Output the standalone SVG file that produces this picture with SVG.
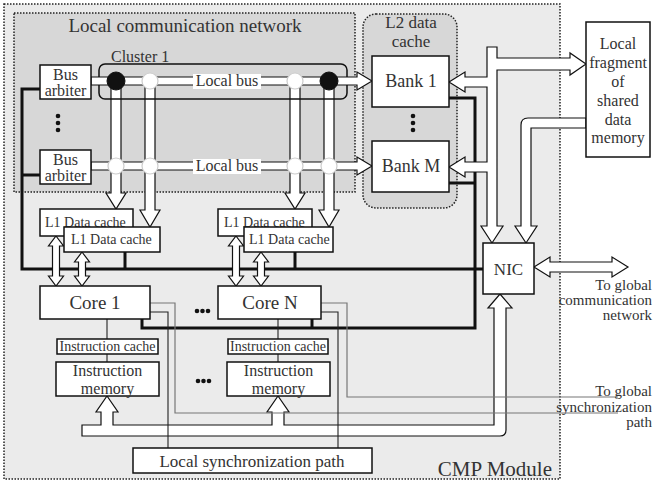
<svg xmlns="http://www.w3.org/2000/svg" width="654" height="483" viewBox="0 0 654 483">
  <style>
    text { font-family: "Liberation Serif", "Times New Roman", serif; fill: #333; }
    .box { fill: #fff; stroke: #111; stroke-width: 1.5; }
    .pipe { fill: #fff; stroke: #111; stroke-width: 1.2; stroke-linejoin: miter; }
    .thick { fill: none; stroke: #111; stroke-width: 3; }
    .thin { fill: none; stroke: #222; stroke-width: 1.1; }
    .sync { fill: none; stroke: #777; stroke-width: 1.2; }
    .dot { fill: #111; }
    .jw { fill: #fff; stroke: #ccc; stroke-width: 1.2; }
    .jb { fill: #111; stroke: #111; stroke-width: 1; }
    .t14 { font-size: 14px; }
    .t16 { font-size: 16px; }
    .t17 { font-size: 17px; }
    .t18 { font-size: 18px; }
    .mid { text-anchor: middle; }
    .end { text-anchor: end; }
  </style>

  <!-- CMP module area -->
  <g id="cmp-module">
    <rect x="4" y="4" width="556" height="475" fill="#ebebeb" stroke="#222" stroke-width="1.5" stroke-dasharray="1.5 1.5"/>
    <text x="552" y="476" font-size="21" class="end">CMP Module</text>
  </g>

  <!-- local communication network region -->
  <g id="local-network">
    <rect x="14" y="13" width="341" height="179" fill="#d7d7d7" stroke="#222" stroke-width="1.5" stroke-dasharray="1.5 1.5"/>
    <text x="185" y="32" font-size="19" class="mid">Local communication network</text>
  </g>

  <!-- L2 data cache region -->
  <g id="l2-cache">
    <rect x="363" y="14" width="94" height="194" rx="13" fill="#d7d7d7" stroke="#222" stroke-width="1.5" stroke-dasharray="1.5 1.5"/>
    <text x="411" y="28" class="t17 mid">L2 data</text>
    <text x="411" y="47" class="t17 mid">cache</text>
  </g>

  <!-- connectors -->
  <g id="connectors">
    <!-- shared memory bus (thick lines) -->
    <polyline class="thick" points="40,89 22,89 22,269 483,269"/>
    <line class="thick" x1="22" y1="175" x2="40" y2="175"/>
    <line class="thick" x1="125" y1="252" x2="125" y2="269"/>
    <line class="thick" x1="295" y1="252" x2="295" y2="269"/>
    <polyline class="thick" points="449,98 475,98 475,328 142,328 142,319"/>
    <line class="thick" x1="449" y1="183" x2="475" y2="183"/>
    <line class="thick" x1="312" y1="319" x2="312" y2="328"/>

    <!-- core to instruction cache / memory -->
    <line class="thin" x1="107" y1="319" x2="107" y2="362"/>
    <line class="thin" x1="278" y1="319" x2="278" y2="362"/>

    <!-- vertical local bus taps to L1 caches -->
    <polygon class="pipe" points="111,81 121,81 121,193 126,193 116,209 106,193 111,193"/>
    <polygon class="pipe" points="145,81 155,81 155,210 160,210 150,227 140,210 145,210"/>
    <polygon class="pipe" points="290,81 300,81 300,193 305,193 295,209 285,193 290,193"/>
    <polygon class="pipe" points="324,81 334,81 334,210 339,210 329,227 319,210 324,210"/>

    <!-- cluster outline -->
    <rect x="99" y="64" width="248" height="35" rx="6" fill="none" stroke="#111" stroke-width="1.5"/>

    <!-- local buses -->
    <polygon class="pipe" points="91,77 357,77 357,72 372,81 357,90 357,85 91,85"/>
    <polygon class="pipe" points="91,162 357,162 357,157 372,166 357,175 357,170 91,170"/>
    <rect x="193" y="74" width="68" height="15" fill="#fff"/>
    <rect x="193" y="159" width="68" height="15" fill="#fff"/>
    <text x="227" y="86" class="t16 mid">Local bus</text>
    <text x="227" y="171" class="t16 mid">Local bus</text>

    <!-- bus junctions -->
    <circle class="jb" cx="116" cy="81" r="9"/>
    <circle class="jw" cx="150" cy="81" r="8"/>
    <circle class="jw" cx="295" cy="81" r="8"/>
    <circle class="jb" cx="329" cy="81" r="9"/>
    <circle class="jw" cx="116" cy="166" r="8"/>
    <circle class="jw" cx="150" cy="166" r="8"/>
    <circle class="jw" cx="295" cy="166" r="8"/>
    <circle class="jw" cx="329" cy="166" r="8"/>

    <!-- L1 cache to core links -->
    <polygon class="pipe" points="56,236 63.5,246 59.5,246 59.5,276 63.5,276 56,286 48.5,276 52.5,276 52.5,246 48.5,246"/>
    <polygon class="pipe" points="82,252 89.5,262 85.5,262 85.5,276 89.5,276 82,286 74.5,276 78.5,276 78.5,262 74.5,262"/>
    <polygon class="pipe" points="236,236 243.5,246 239.5,246 239.5,276 243.5,276 236,286 228.5,276 232.5,276 232.5,246 228.5,246"/>
    <polygon class="pipe" points="261,252 268.5,262 264.5,262 264.5,276 268.5,276 261,286 253.5,276 257.5,276 257.5,262 253.5,262"/>

    <!-- NIC / L2 banks / memory fragment bus -->
    <polygon class="pipe" points="487,47 497,47 497,58 570,58 570,53 586,64 570,75 570,70 497,70 497,226 503,226 492,243 481,226 487,226 487,172 465,172 465,177 449,167 465,157 465,162 487,162 487,87 465,87 465,92 449,82 465,72 465,77 487,77"/>
    <path class="pipe" d="M586,118 H528 Q521,118 521,125 V226 H515 L526,243 L537,226 H531 V128 H586 Z"/>

    <!-- NIC to global network -->
    <polygon class="pipe" points="534,267 550,257 550,262 612,262 612,257 628,267 612,277 612,272 550,272 550,277"/>

    <!-- NIC to instruction memories -->
    <path class="pipe" d="M82,425 H101 V412 H96 L107,396 L118,412 H113 V425 H272 V412 H267 L278,396 L289,412 H284 V425 H494 V308 H488 L500,294 L512,308 H506 V430 Q506,436 500,436 H82 Z"/>

    <!-- synchronization lines -->
    <polyline class="sync" points="150,303 175,303 175,413 618,413"/>
    <polyline class="sync" points="321,303 347,303 347,397 618,397"/>
    <polyline class="thin" points="150,312 168,312 168,448"/>
    <polyline class="thin" points="321,312 338,312 338,448"/>
  </g>

  <!-- bus arbiters -->
  <g id="bus-arbiter-1">
    <rect class="box" x="40" y="65" width="51" height="34"/>
    <text x="65.5" y="80" class="t16 mid">Bus</text>
    <text x="65.5" y="96" class="t16 mid">arbiter</text>
  </g>
  <g id="bus-arbiter-m">
    <rect class="box" x="40" y="150" width="51" height="34"/>
    <text x="65.5" y="165" class="t16 mid">Bus</text>
    <text x="65.5" y="181" class="t16 mid">arbiter</text>
  </g>
  <g id="arbiter-dots">
    <circle class="dot" cx="58" cy="116" r="2.3"/>
    <circle class="dot" cx="58" cy="123" r="2.3"/>
    <circle class="dot" cx="58" cy="130" r="2.3"/>
  </g>
  <g id="cluster-label">
    <text x="111" y="62" class="t16">Cluster 1</text>
  </g>

  <!-- L2 banks -->
  <g id="bank-1">
    <rect class="box" x="372" y="56" width="77" height="51"/>
    <text x="411" y="87" class="t18 mid">Bank 1</text>
  </g>
  <g id="bank-dots">
    <circle class="dot" cx="413" cy="116" r="2.3"/>
    <circle class="dot" cx="413" cy="123" r="2.3"/>
    <circle class="dot" cx="413" cy="130" r="2.3"/>
  </g>
  <g id="bank-m">
    <rect class="box" x="372" y="141" width="77" height="51"/>
    <text x="411" y="172" class="t18 mid">Bank M</text>
  </g>

  <!-- L1 data caches -->
  <g id="l1-cache-1a">
    <rect class="box" x="40" y="209" width="93" height="27"/>
    <text x="45" y="227" class="t14">L1 Data cache</text>
  </g>
  <g id="l1-cache-1b">
    <rect class="box" x="64" y="227" width="96" height="25"/>
    <text x="71" y="244" class="t14">L1 Data cache</text>
  </g>
  <g id="l1-cache-na">
    <rect class="box" x="218" y="209" width="94" height="27"/>
    <text x="224" y="227" class="t14">L1 Data cache</text>
  </g>
  <g id="l1-cache-nb">
    <rect class="box" x="244" y="227" width="89" height="25"/>
    <text x="249" y="244" class="t14">L1 Data cache</text>
  </g>

  <!-- cores -->
  <g id="core-1">
    <rect class="box" x="40" y="286" width="110" height="33"/>
    <text x="95" y="309" font-size="19" class="mid">Core 1</text>
  </g>
  <g id="core-dots">
    <circle class="dot" cx="197" cy="311" r="2.3"/>
    <circle class="dot" cx="202.5" cy="311" r="2.3"/>
    <circle class="dot" cx="208" cy="311" r="2.3"/>
  </g>
  <g id="core-n">
    <rect class="box" x="218" y="286" width="103" height="33"/>
    <text x="270" y="309" font-size="19" class="mid">Core N</text>
  </g>

  <!-- instruction caches and memories -->
  <g id="icache-1">
    <rect class="box" x="57" y="339" width="101" height="15"/>
    <text x="107.5" y="351" class="t14 mid">Instruction cache</text>
  </g>
  <g id="imem-1">
    <rect class="box" x="56" y="362" width="103" height="34"/>
    <text x="107.5" y="376" class="t16 mid">Instruction</text>
    <text x="107.5" y="393.5" class="t16 mid">memory</text>
  </g>
  <g id="imem-dots">
    <circle class="dot" cx="198" cy="381" r="2.3"/>
    <circle class="dot" cx="203.5" cy="381" r="2.3"/>
    <circle class="dot" cx="209" cy="381" r="2.3"/>
  </g>
  <g id="icache-n">
    <rect class="box" x="228" y="339" width="100" height="15"/>
    <text x="278" y="351" class="t14 mid">Instruction cache</text>
  </g>
  <g id="imem-n">
    <rect class="box" x="227" y="362" width="103" height="34"/>
    <text x="278.5" y="376" class="t16 mid">Instruction</text>
    <text x="278.5" y="393.5" class="t16 mid">memory</text>
  </g>

  <!-- local synchronization path -->
  <g id="local-sync">
    <rect class="box" x="133" y="448" width="239" height="25"/>
    <text x="252" y="467" class="t17 mid">Local synchronization path</text>
  </g>

  <!-- network interface -->
  <g id="nic">
    <rect class="box" x="483" y="243" width="51" height="51"/>
    <text x="508.5" y="275" class="t17 mid">NIC</text>
  </g>

  <!-- shared memory fragment -->
  <g id="memory-fragment">
    <rect class="box" x="586" y="22" width="64" height="135"/>
    <text x="618" y="49" class="t16 mid">Local</text>
    <text x="618" y="68" class="t16 mid">fragment</text>
    <text x="618" y="87" class="t16 mid">of</text>
    <text x="618" y="106" class="t16 mid">shared</text>
    <text x="618" y="125" class="t16 mid">data</text>
    <text x="618" y="143" class="t16 mid">memory</text>
  </g>

  <!-- external destinations -->
  <g id="global-network-label">
    <text x="652" y="290" font-size="15" class="end">To global</text>
    <text x="652" y="305" font-size="15" class="end">communication</text>
    <text x="652" y="320" font-size="15" class="end">network</text>
  </g>
  <g id="global-sync-label">
    <text x="652" y="396" font-size="15" class="end">To global</text>
    <text x="652" y="412" font-size="15" class="end">synchronization</text>
    <text x="652" y="427" font-size="15" class="end">path</text>
  </g>
</svg>
